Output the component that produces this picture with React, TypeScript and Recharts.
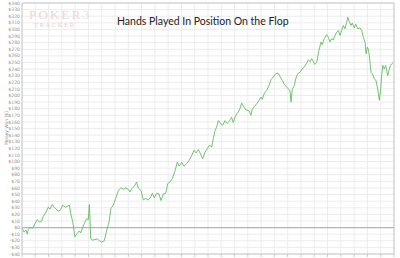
import React from "react";
import {
  LineChart,
  Line,
  XAxis,
  YAxis,
  CartesianGrid,
  ReferenceLine,
} from "recharts";

// cumulative winnings sampled along the session (hand number, dollars)
const hands = [
  0, 15, 30, 40, 47, 60, 81, 98, 115, 130, 148, 160, 181, 198, 211, 228, 241, 256, 273, 291,
  306, 324, 341, 356, 367, 382, 391, 398, 416, 431, 442, 457, 469, 487, 499, 507, 512, 517, 532, 549,
  567, 582, 600, 619, 638, 655, 670, 687, 705, 725, 745, 762, 781, 800, 813, 826, 845, 863, 875, 896,
  913, 931, 951, 971, 981, 996, 1014, 1031, 1046, 1064, 1082, 1097, 1114, 1131, 1152, 1169, 1184, 1202, 1219, 1240,
  1259, 1277, 1295, 1310, 1327, 1345, 1360, 1377, 1395, 1410, 1428, 1440, 1453, 1465, 1478, 1496, 1511, 1528, 1545, 1560,
  1578, 1590, 1603, 1616, 1628, 1640, 1653, 1666, 1686, 1708, 1723, 1733, 1749, 1767, 1784, 1799, 1809, 1824, 1842, 1859,
  1874, 1892, 1910, 1925, 1942, 1959, 1974, 1992, 2004, 2017, 2025, 2035, 2050, 2060, 2075, 2092, 2110, 2125, 2143, 2155,
  2168, 2181, 2193, 2205, 2218, 2235, 2251, 2260, 2275, 2293, 2306, 2318, 2331, 2343, 2356, 2369, 2381, 2394, 2406, 2418,
  2431, 2444, 2452, 2461, 2476, 2486, 2501, 2512, 2527, 2544, 2557, 2569, 2582, 2590, 2599, 2607, 2614, 2627, 2637, 2652,
  2664, 2677, 2690, 2700, 2707, 2715, 2727, 2737, 2753, 2762, 2773, 2783, 2795,
];

const winnings = [
  0, -7, -4, -10, -3, 0, -1, 6, 12, 8.5, 10, 17, 23.6, 31, 28, 35, 31, 28, 25, 27,
  34, 31, 32, 34, 21, 8.5, -4, -14, -9, -5, -8, 0, 6, 13.6, 12, 35, 11, -17, -19, -18,
  -17, -20, -22, -20, -4, 8.5, 29, 34, 44, 56, 60.5, 58, 60, 58, 54, 59, 62.5, 69, 60, 56,
  42, 44, 42, 47, 52, 45, 52, 51, 41, 51, 52, 66.5, 69, 74, 86, 99, 93, 99, 93, 97,
  102, 109, 117, 113, 118, 111, 104, 114, 119.5, 124.5, 122, 134.6, 147, 152, 162, 157, 155, 162, 158, 161,
  167, 159, 167, 172, 175, 180, 188.5, 184, 178, 177, 170, 179, 183.5, 187.6, 192.6, 197.6, 194, 203.6, 207.7, 215,
  224, 228, 233, 234, 229, 223, 217, 212.7, 210, 207, 190, 210, 215, 225, 233, 235, 240.5, 243, 249, 254,
  251, 255.7, 251, 247, 250, 268, 281, 277, 286, 292, 288, 281, 286, 284, 291, 296, 298.5, 291, 298.5, 306,
  301, 311, 318.6, 313, 306, 309.5, 302.5, 308, 301, 302.5, 298.5, 288, 281, 263, 273, 270, 260.7, 235, 233, 225,
  223, 210, 192.6, 210, 230, 245.5, 240, 245.5, 230, 238, 245.5, 248, 250,
];

const yTicks = Array.from({ length: 39 }, (_, i) => -40 + i * 10);
const xTicks = Array.from({ length: 29 }, (_, i) => i * 100);

const data = hands.map((hand, i) => ({ hand, won: winnings[i] }));

const money = (v: number) => (v < 0 ? `-$${-v}` : `$${v}`);

export default function App() {
  return (
    <div style={{ position: "absolute", left: 0, top: 0, width: 400, height: 258, background: "#fff" }}>
      <LineChart width={400} height={258} data={data} margin={{ top: 3, right: 6, bottom: 0, left: 0 }}>
        <CartesianGrid stroke="#ececec" strokeWidth={1} />
        <XAxis
          type="number"
          dataKey="hand"
          domain={[0, 2800]}
          ticks={xTicks}
          height={4}
          tickSize={3}
          tickFormatter={() => ""}
          axisLine={{ stroke: "#c8c8c8" }}
          tickLine={{ stroke: "#c8c8c8" }}
          interval={0}
        />
        <YAxis
          type="number"
          domain={[-40, 340]}
          ticks={yTicks}
          width={22}
          interval={0}
          tickSize={0}
          tickMargin={2}
          tickFormatter={money}
          tick={{ fontSize: 4.6, fill: "#959595", fontFamily: "DejaVu Sans" }}
          axisLine={{ stroke: "#c8c8c8" }}
        />
        <ReferenceLine y={340} stroke="#c8c8c8" />
        <ReferenceLine x={2800} stroke="#c8c8c8" />
        <ReferenceLine y={0} stroke="#b4b4b4" strokeWidth={1.2} />
        <Line
          type="linear"
          dataKey="won"
          stroke="#63ba63"
          strokeWidth={0.9}
          dot={false}
          isAnimationActive={false}
        />
      </LineChart>

      {/* watermark logo */}
      <div
        style={{
          position: "absolute",
          left: 29,
          top: 8,
          fontFamily: "Liberation Serif",
          fontSize: 13,
          letterSpacing: 2.2,
          color: "#efd6d6",
          lineHeight: "13px",
        }}
      >
        POKER<span style={{ fontSize: 13, color: "#e4e4e4" }}>3</span>
      </div>
      <div
        style={{
          position: "absolute",
          left: 34,
          top: 21,
          fontFamily: "Liberation Serif",
          fontSize: 6.5,
          letterSpacing: 1.6,
          color: "#e0d0d0",
          lineHeight: "7px",
        }}
      >
        TRACKER
      </div>

      <div
        style={{
          position: "absolute",
          left: 117,
          top: 14,
          fontFamily: "Lato",
          fontSize: 10.5,
          color: "#222",
          whiteSpace: "nowrap",
          lineHeight: "14px",
        }}
      >
        Hands Played In Position On the Flop
      </div>

      <div
        style={{
          position: "absolute",
          left: 6,
          top: 128,
          transform: "translate(-50%, -50%) rotate(-90deg)",
          fontFamily: "DejaVu Sans",
          fontSize: 4.5,
          color: "#8a8a8a",
          whiteSpace: "nowrap",
        }}
      >
        Money Won ($)
      </div>
    </div>
  );
}
